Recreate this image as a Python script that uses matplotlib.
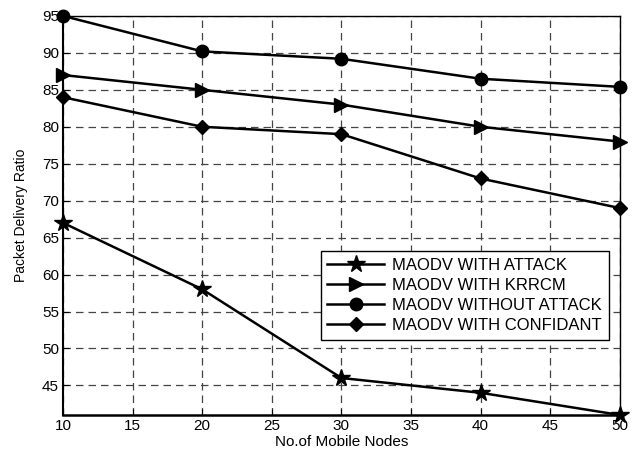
import matplotlib.pyplot as plt

plt.rcParams.update({
    'font.family': 'Liberation Sans',
    'font.size': 11,
})

nodes = [10, 20, 30, 40, 50]
with_attack = [67, 58, 46, 44, 41]
with_krrcm = [87, 85, 83, 80, 78]
without_attack = [95, 90.2, 89.2, 86.5, 85.4]
with_confidant = [84, 80, 79, 73, 69]

fig = plt.figure(figsize=(6.37, 4.55), dpi=100)
ax = fig.add_axes([0.099, 0.088, 0.874, 0.877])

ax.plot(nodes, with_attack, color='black', lw=1.8, marker='*', ms=13, label='MAODV WITH ATTACK', clip_on=False, zorder=3)
ax.plot(nodes, with_krrcm, color='black', lw=1.8, marker='>', ms=10, label='MAODV WITH KRRCM', clip_on=False, zorder=3)
ax.plot(nodes, without_attack, color='black', lw=1.8, marker='o', ms=9, label='MAODV WITHOUT ATTACK', clip_on=False, zorder=3)
ax.plot(nodes, with_confidant, color='black', lw=1.8, marker='D', ms=7, label='MAODV WITH CONFIDANT', clip_on=False, zorder=3)

ax.set_xlim(10, 50)
ax.set_ylim(41, 95)
ax.set_xticks(range(10, 51, 5))
ax.set_yticks(range(45, 96, 5))
ax.grid(True, ls=(0, (6, 4)), color='#444444', lw=0.9)
ax.tick_params(direction='in', length=4, color='black', labelsize=11, pad=3)
for s in ax.spines.values():
    s.set_linewidth(1.0)
ax.spines['bottom'].set_linewidth(1.8)
ax.spines['left'].set_linewidth(1.5)

ax.set_xlabel('No.of Mobile Nodes', fontsize=11, labelpad=1)
ax.set_ylabel('Packet Delivery Ratio', fontsize=10, labelpad=10)

leg = ax.legend(loc='lower right', bbox_to_anchor=(0.995, 0.168), fancybox=False,
                edgecolor='black', framealpha=1, fontsize=12, handlelength=3.4,
                borderpad=0.4, labelspacing=0.3, handletextpad=0.5)
leg.get_frame().set_linewidth(1.0)

plt.savefig('out.png', dpi=100)
